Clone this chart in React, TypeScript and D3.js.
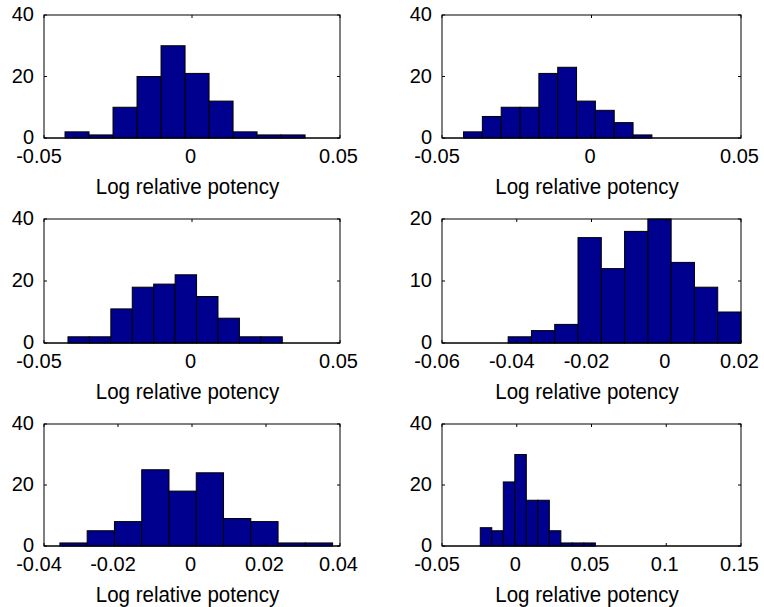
import React, { useEffect, useRef } from 'react';
import * as d3 from 'd3';

// histogram counts per panel (10 bins each)
const counts1 = [2, 1, 10, 20, 30, 21, 12, 2, 1, 1];
const counts2 = [2, 7, 10, 10, 21, 23, 12, 9, 5, 1];
const counts3 = [2, 2, 11, 18, 19, 22, 15, 8, 2, 2];
const counts4 = [1, 2, 3, 17, 12, 18, 20, 13, 9, 5];
const counts5 = [1, 5, 8, 25, 18, 24, 9, 8, 1, 1];
const counts6 = [6, 5, 21, 30, 15, 15, 5, 1, 1, 1];

// data range covered by the bins (min, max)
const range1 = [-0.0429, 0.0382];
const range2 = [-0.0428, 0.0202];
const range3 = [-0.0419, 0.0305];
const range4 = [-0.0423, 0.02];
const range5 = [-0.0357, 0.038];
const range6 = [-0.0244, 0.0526];

// axis limits and ticks
const xTicksA = [-0.05, 0, 0.05];
const xTicks4 = [-0.06, -0.04, -0.02, 0, 0.02];
const xTicks5 = [-0.04, -0.02, 0, 0.02, 0.04];
const xTicks6 = [-0.05, 0, 0.05, 0.1, 0.15];
const yTicksA = [0, 20, 40];
const yTicks4 = [0, 10, 20];

const xLabel = 'Log relative potency';

const panels = [
  { counts: counts1, range: range1, xTicks: xTicksA, yTicks: yTicksA },
  { counts: counts2, range: range2, xTicks: xTicksA, yTicks: yTicksA },
  { counts: counts3, range: range3, xTicks: xTicksA, yTicks: yTicksA },
  { counts: counts4, range: range4, xTicks: xTicks4, yTicks: yTicks4 },
  { counts: counts5, range: range5, xTicks: xTicks5, yTicks: yTicksA },
  { counts: counts6, range: range6, xTicks: xTicks6, yTicks: yTicksA },
];

const cols = [[44, 340], [442, 741]];
const rows = [[15, 138], [219, 343], [424, 546]];

const font = 'Liberation Sans, Arial, Helvetica, sans-serif';
const barColor = '#00008f';

const App = () => {
  const ref = useRef<SVGSVGElement>(null);

  useEffect(() => {
    if (!ref.current) return;
    const svg = d3.select(ref.current);
    svg.selectAll('*').remove();

    panels.forEach((p, i) => {
      const [x0, x1] = cols[i % 2];
      const [y0, y1] = rows[Math.floor(i / 2)];
      const xt = p.xTicks;
      const yt = p.yTicks;

      const x = d3.scaleLinear().domain([xt[0], xt[xt.length - 1]]).range([x0, x1]);
      const y = d3.scaleLinear().domain([yt[0], yt[yt.length - 1]]).range([y1, y0]);

      const n = p.counts.length;
      const w = (p.range[1] - p.range[0]) / n;
      const bins = p.counts.map((c, k) => ({
        lo: p.range[0] + k * w,
        hi: p.range[0] + (k + 1) * w,
        c,
      }));

      const g = svg.append('g');

      // baseline between bars
      g.append('line')
        .attr('x1', x0).attr('x2', x1)
        .attr('y1', y1).attr('y2', y1)
        .attr('stroke', '#000');

      g.selectAll('.bar')
        .data(bins)
        .enter().append('rect')
        .attr('class', 'bar')
        .attr('x', d => x(d.lo))
        .attr('width', d => x(d.hi) - x(d.lo))
        .attr('y', d => y(d.c))
        .attr('height', d => y(0) - y(d.c))
        .attr('fill', barColor)
        .attr('stroke', '#000')
        .attr('stroke-width', 1);

      // box
      g.append('rect')
        .attr('x', x0).attr('y', y0)
        .attr('width', x1 - x0).attr('height', y1 - y0)
        .attr('fill', 'none')
        .attr('stroke', '#000')
        .attr('stroke-width', 1);

      // x ticks, inside on top and bottom
      xt.forEach(v => {
        const px = x(v);
        g.append('line').attr('x1', px).attr('x2', px).attr('y1', y1).attr('y2', y1 - 3).attr('stroke', '#000');
        g.append('line').attr('x1', px).attr('x2', px).attr('y1', y0).attr('y2', y0 + 3).attr('stroke', '#000');
        g.append('text')
          .attr('x', px - 1.5 - (v < 0 ? 3.5 : 0))
          .attr('y', y1 + 25)
          .attr('text-anchor', 'middle')
          .attr('font-family', font)
          .attr('font-size', 20)
          .attr('fill', '#000')
          .text(String(v));
      });

      // y ticks, inside on left and right
      yt.forEach(v => {
        const py = y(v);
        g.append('line').attr('x1', x0).attr('x2', x0 + 3).attr('y1', py).attr('y2', py).attr('stroke', '#000');
        g.append('line').attr('x1', x1).attr('x2', x1 - 3).attr('y1', py).attr('y2', py).attr('stroke', '#000');
        g.append('text')
          .attr('x', x0 - 10)
          .attr('y', py)
          .attr('dy', '0.3em')
          .attr('text-anchor', 'end')
          .attr('font-family', font)
          .attr('font-size', 20)
          .attr('fill', '#000')
          .text(String(v));
      });

      // x axis label
      g.append('text')
        .attr('transform', `translate(${(x0 + x1) / 2 - 4.5},${y1 + 56}) scale(1,1.08)`)
        .attr('text-anchor', 'middle')
        .attr('font-family', font)
        .attr('font-size', 20.5)
        .attr('fill', '#000')
        .text(xLabel);
    });
  }, []);

  return (
    <svg
      ref={ref}
      width={764}
      height={607}
      style={{ position: 'absolute', left: 0, top: 0, background: '#fff' }}
    />
  );
};

export default App;
